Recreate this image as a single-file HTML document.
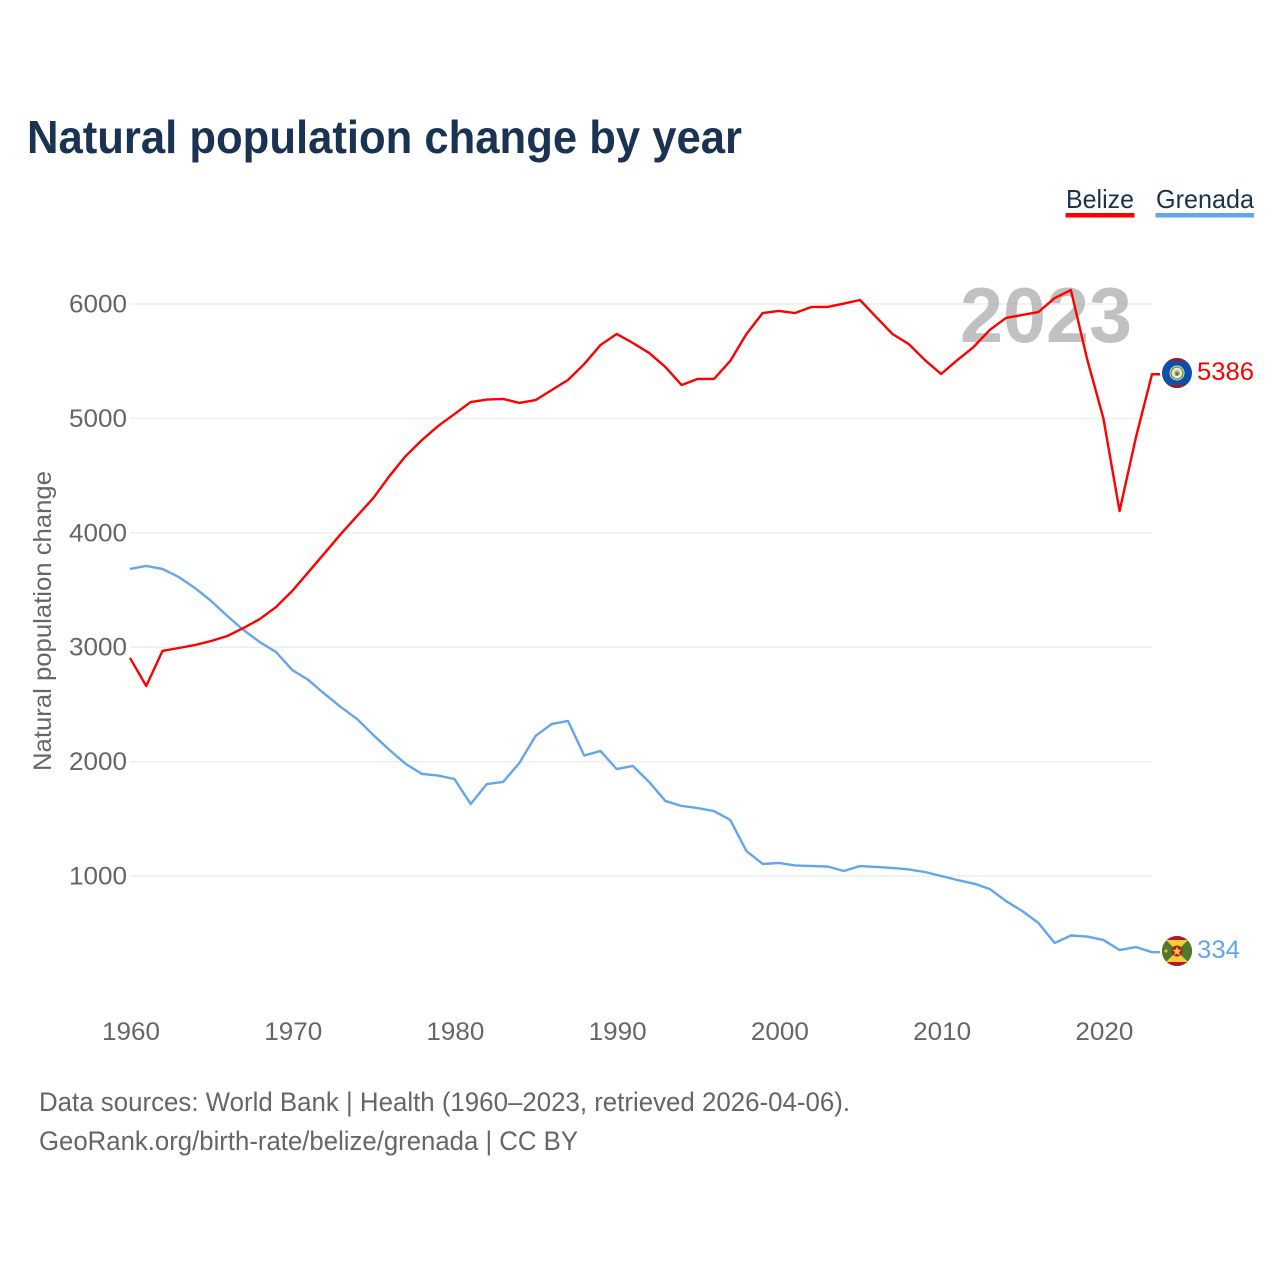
<!DOCTYPE html>
<html lang="en">
<head>
<meta charset="utf-8">
<title>Natural population change by year</title>
<style>
html,body{margin:0;padding:0;background:#fff;}
svg{display:block;font-family:"Liberation Sans",sans-serif;}
</style>
</head>
<body>
<svg id="chart" width="1280" height="1280" viewBox="0 0 1280 1280" xmlns="http://www.w3.org/2000/svg">
  <defs>
    <clipPath id="belize-clip"><circle cx="1177" cy="373" r="15"/></clipPath>
    <clipPath id="grenada-clip"><circle cx="1177" cy="951" r="15"/></clipPath>
  </defs>
  <rect width="1280" height="1280" fill="#fff"/>
  <text x="27" y="153" font-size="46" font-weight="700" fill="#1a3353" textLength="715" lengthAdjust="spacingAndGlyphs">Natural population change by year</text>

  <g>
    <text x="1066" y="208" font-size="26" fill="#1a3353" textLength="68" lengthAdjust="spacingAndGlyphs">Belize</text>
    <rect x="1065.5" y="213" width="69" height="4.5" fill="#ff0000"/>
  </g>
  <g>
    <text x="1156" y="208" font-size="26" fill="#1a3353" textLength="98" lengthAdjust="spacingAndGlyphs">Grenada</text>
    <rect x="1155.5" y="213" width="98.5" height="4.5" fill="#63a6ee"/>
  </g>

  <g id="grid"></g>
  <text x="960" y="342" font-size="78" font-weight="700" fill="#a6a6a6" fill-opacity="0.7" textLength="172" lengthAdjust="spacingAndGlyphs">2023</text>
  <g id="y-ticks"></g>
  <g id="x-ticks"></g>
  <text transform="translate(51,771) rotate(-90)" font-size="25" fill="#666" textLength="300" lengthAdjust="spacingAndGlyphs">Natural population change</text>

  <g id="series"></g>

  <g clip-path="url(#belize-clip)">
    <rect x="1162" y="358" width="30" height="30" fill="#0b4fa8"/>
    <rect x="1162" y="358" width="30" height="3" fill="#a8182c"/>
    <rect x="1162" y="385" width="30" height="3" fill="#a8182c"/>
    <circle cx="1177" cy="373" r="7.5" fill="#e8efe0"/>
    <circle cx="1177" cy="373" r="6" fill="none" stroke="#7a9a55" stroke-width="1.6"/>
    <circle cx="1177" cy="373" r="3" fill="#c9b24a"/>
    <circle cx="1177" cy="374" r="1.6" fill="#3c6ea8"/>
  </g>
  <text id="belize-value" x="1197" y="380" font-size="25" fill="#ff0000" textLength="57" lengthAdjust="spacingAndGlyphs"></text>

  <g clip-path="url(#grenada-clip)">
    <rect x="1162" y="936" width="30" height="30" fill="#c8102e"/>
    <rect x="1165" y="939" width="24" height="24" fill="#f5cf3a"/>
    <polygon points="1165,939 1177,951 1165,963" fill="#4f7a28"/>
    <polygon points="1189,939 1177,951 1189,963" fill="#4f7a28"/>
    <rect x="1162" y="936" width="30" height="4" fill="#b01c2e"/>
    <rect x="1162" y="962" width="30" height="4" fill="#b01c2e"/>
    <rect x="1162" y="936" width="3" height="30" fill="#4f7a28"/>
    <rect x="1189" y="936" width="3" height="30" fill="#4f7a28"/>
    <circle cx="1177" cy="951" r="5.5" fill="#b01c2e"/>
    <polygon points="1177,946.5 1178.3,949.8 1181.5,949.8 1179,952 1180,955.5 1177,953.5 1174,955.5 1175,952 1172.5,949.8 1175.7,949.8" fill="#f5cf3a"/>
    <circle cx="1166" cy="951" r="1.6" fill="#e0b83a"/>
  </g>
  <text id="grenada-value" x="1197" y="958" font-size="25" fill="#63a6ee" textLength="43" lengthAdjust="spacingAndGlyphs"></text>

  <text x="39" y="1111" font-size="26.5" fill="#666" textLength="811" lengthAdjust="spacingAndGlyphs">Data sources: World Bank | Health (1960–2023, retrieved 2026-04-06).</text>
  <text x="39" y="1150" font-size="26.5" fill="#666" textLength="539" lengthAdjust="spacingAndGlyphs">GeoRank.org/birth-rate/belize/grenada | CC BY</text>
</svg>
<script>
var firstYear = 1960;
var belizeValues = [2906,2661,2967,2993,3019,3054,3098,3168,3246,3351,3491,3657,3823,3990,4147,4304,4497,4672,4811,4934,5038,5143,5165,5170,5135,5160,5248,5336,5475,5641,5738,5659,5572,5450,5292,5345,5345,5502,5738,5921,5939,5921,5974,5974,6004,6035,5886,5738,5650,5510,5388,5510,5624,5773,5878,5904,5930,6052,6122,5519,5003,4190,4829,5386];
var grenadaValues = [3684,3710,3684,3614,3518,3404,3273,3150,3045,2958,2801,2713,2591,2477,2372,2232,2101,1979,1892,1878,1848,1629,1804,1822,1988,2224,2329,2355,2053,2093,1935,1962,1822,1656,1612,1594,1568,1490,1218,1105,1114,1092,1087,1083,1044,1087,1079,1070,1057,1035,1000,965,934,886,781,694,589,414,480,471,441,353,379,334];
var yTicks = [1000,2000,3000,4000,5000,6000];
var xTicks = [1960,1970,1980,1990,2000,2010,2020];

var NS = 'http://www.w3.org/2000/svg';
function xScale(year){ return 130 + (year - 1960) * (1152 - 130) / 63; }
function yScale(value){ return 990.4 - value * 0.1144; }

function make(tag, attrs, parent, text){
  var el = document.createElementNS(NS, tag);
  for (var k in attrs) el.setAttribute(k, attrs[k]);
  if (text !== undefined) el.textContent = text;
  parent.appendChild(el);
  return el;
}

var gridGroup = document.getElementById('grid');
var yGroup = document.getElementById('y-ticks');
yTicks.forEach(function(t){
  var line = make('line', {x1:130, x2:1152, y1:yScale(t), y2:yScale(t), stroke:'#eeeeee', 'stroke-width':1.5}, gridGroup);
  
  
  var label = make('text', {x:127, y:yScale(t)+8.5, 'font-size':25, fill:'#666', 'text-anchor':'end', textLength:58, lengthAdjust:'spacingAndGlyphs'}, yGroup, String(t));
  
  
});

var xGroup = document.getElementById('x-ticks');
xTicks.forEach(function(t){
  var label = make('text', {x:xScale(t)+1, y:1040, 'font-size':25, fill:'#666', 'text-anchor':'middle', textLength:58, lengthAdjust:'spacingAndGlyphs'}, xGroup, String(t));
  
  
});

function drawSeries(values, color, name){
  var group = document.getElementById('series');
  var pts = values.map(function(v, i){ return xScale(firstYear + i).toFixed(2) + ',' + yScale(v).toFixed(2); });
  var lastY = yScale(values[values.length - 1]).toFixed(2);
  pts.push('1160,' + lastY);
  var line = make('polyline', {points:pts.join(' '), fill:'none', stroke:color, 'stroke-width':2.4, 'stroke-linejoin':'round'}, group);
  
  
}
drawSeries(grenadaValues, '#63a6ee', 'grenada-line');
drawSeries(belizeValues, '#ff0000', 'belize-line');

document.getElementById('belize-value').textContent = belizeValues[belizeValues.length - 1];
document.getElementById('grenada-value').textContent = grenadaValues[grenadaValues.length - 1];
</script>
</body>
</html>
